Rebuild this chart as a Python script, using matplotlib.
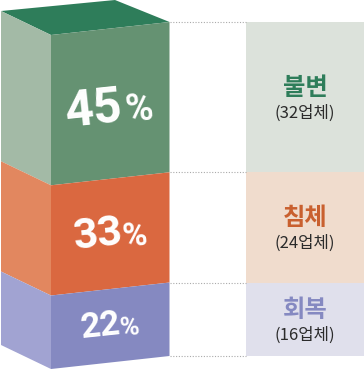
import matplotlib
matplotlib.use('Agg')
import matplotlib.pyplot as plt
from matplotlib.patches import Polygon, Rectangle

names = ['불변', '침체', '회복']
counts = ['(32업체)', '(24업체)', '(16업체)']
shares = [45, 33, 22]

front_colors = ['#659272', '#da6840', '#8589c1']
side_colors = ['#a3baa6', '#e2875f', '#a1a3d2']
panel_colors = ['#dce2db', '#f0dccd', '#e0e0ec']
name_colors = ['#2e7d5a', '#c9602f', '#8589c1']
top_color = '#2e7d5a'

# label spots, pixels
num_pos = [(93.5, 111), (98, 235), (101, 326)]
num_size = [36, 31, 25]
pct_pos = [(139, 110), (135, 237), (130, 328)]
pct_size = [27, 24, 19]

fig = plt.figure(figsize=(3.64, 3.69), dpi=100)
ax = fig.add_axes([0, 0, 1, 1])
ax.set_xlim(0, 364)
ax.set_ylim(369, 0)
ax.axis('off')

x0, x1, x2 = 1, 51, 169.5
top_y = 35
scale = 3.34
side_rise = 24
right_rise = 13

# top face
ax.add_patch(Polygon([(x0, 11), (115, 0), (x2, 22), (x1, 35)], color=top_color, lw=0))

y = top_y
for i in range(3):
    h = shares[i] * scale
    ax.add_patch(Polygon([(x0, y - side_rise), (x1, y), (x1, y + h), (x0, y + h - side_rise)],
                         color=side_colors[i], lw=0))
    ax.add_patch(Polygon([(x1, y), (x2, y - right_rise), (x2, y + h - right_rise), (x1, y + h)],
                         color=front_colors[i], lw=0))
    # right panel + dotted line
    ax.add_patch(Rectangle((246, y - right_rise), 118, h, color=panel_colors[i], lw=0))
    ax.plot([x2, 246], [y - right_rise, y - right_rise], color='#aaaaaa', lw=0.8, ls=(0, (1, 1.5)))
    mid = y - right_rise + h / 2
    ax.text(305, mid - 9, names[i], color=name_colors[i], fontsize=17.5, fontweight='bold',
            family='Noto Sans CJK KR', ha='center', va='center')
    ax.text(304.5, mid + 16, counts[i], color='#2b2b2b', fontsize=12,
            family='Noto Sans CJK KR', ha='center', va='center')
    ax.text(num_pos[i][0], num_pos[i][1], str(shares[i]), color='white', fontsize=num_size[i],
            fontweight='bold', family='Roboto', rotation=6, ha='center', va='center')
    ax.text(pct_pos[i][0], pct_pos[i][1], '%', color='white', fontsize=pct_size[i],
            fontweight='bold', family='Roboto', rotation=6, ha='center', va='center')
    y += h
ax.plot([x2, 246], [y - right_rise, y - right_rise], color='#aaaaaa', lw=0.8, ls=(0, (1, 1.5)))

fig.savefig('out.png', dpi=100)
